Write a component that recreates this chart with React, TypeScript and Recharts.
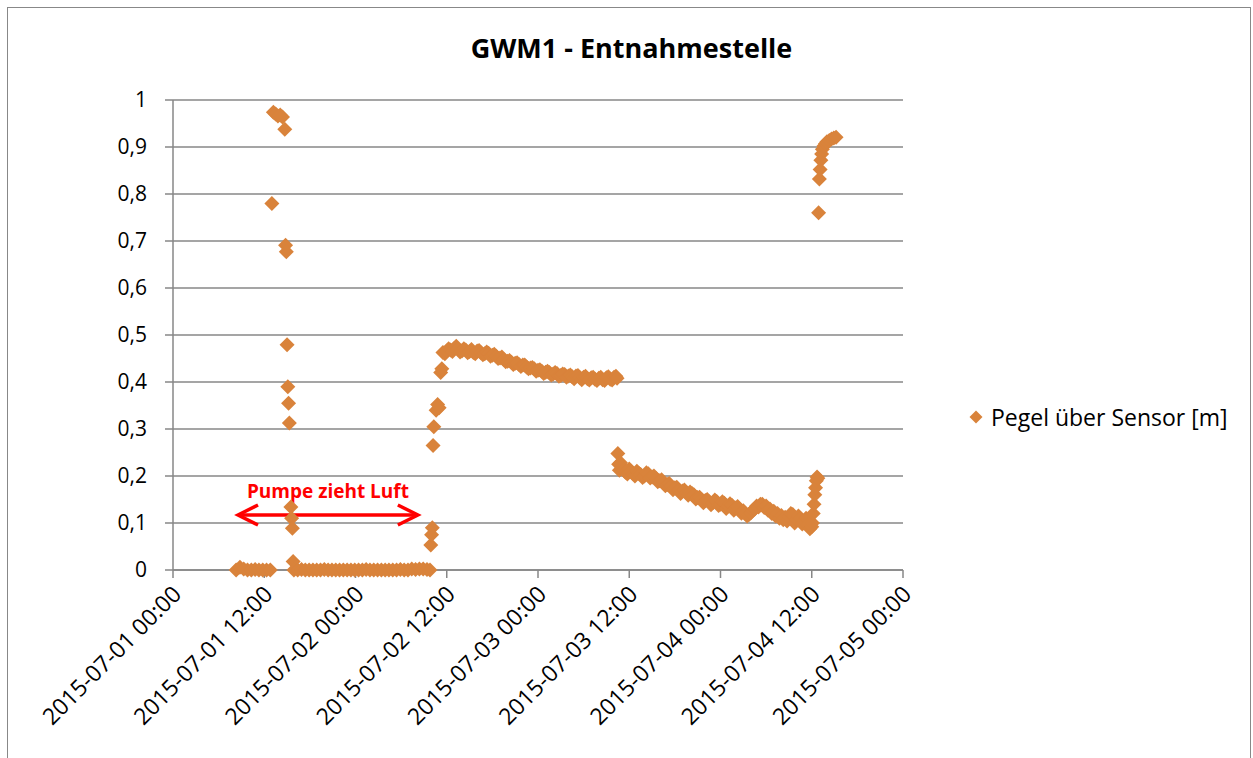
import React from 'react';
import { ScatterChart, Scatter, XAxis, YAxis, CartesianGrid, ReferenceLine, Legend } from 'recharts';

const TITLE = 'GWM1 - Entnahmestelle';
const SERIES_NAME = 'Pegel über Sensor [m]';
const ANNOTATION = 'Pumpe zieht Luft';

// x axis: hours since 2015-07-01 00:00
const xTicks = [0, 12, 24, 36, 48, 60, 72, 84, 96];
const xTickLabels = [
  '2015-07-01 00:00', '2015-07-01 12:00', '2015-07-02 00:00', '2015-07-02 12:00',
  '2015-07-03 00:00', '2015-07-03 12:00', '2015-07-04 00:00', '2015-07-04 12:00',
  '2015-07-05 00:00',
];
const yTicks = [0, 0.1, 0.2, 0.3, 0.4, 0.5, 0.6, 0.7, 0.8, 0.9, 1];
const yTickLabels = ['0', '0,1', '0,2', '0,3', '0,4', '0,5', '0,6', '0,7', '0,8', '0,9', '1'];

// annotation arrow (hours, level)
const arrowStart = { x: 8.55, y: 0.117 };
const arrowEnd = { x: 32.2, y: 0.117 };

// measurements: [hours, level in m]
const firstIdle: [number, number][] = [
  [8.3, 0], [8.8, 0.006], [9.3, 0.002], [9.8, 0], [10.3, 0], [10.8, 0.001],
  [11.3, 0], [11.8, 0], [12.3, 0], [12.8, 0],
];
const spike: [number, number][] = [
  [13.0, 0.78], [13.2, 0.974], [13.5, 0.97], [13.8, 0.966], [14.1, 0.968], [14.4, 0.964],
  [14.7, 0.938], [14.8, 0.691], [14.9, 0.677], [15.0, 0.479], [15.1, 0.39], [15.2, 0.355],
  [15.3, 0.313], [15.5, 0.134], [15.6, 0.11], [15.7, 0.089], [15.8, 0.018],
];
const secondIdle: [number, number][] = [
  [15.9, 0], [16.4, 0], [16.9, 0.001], [17.4, 0], [17.9, 0], [18.4, 0], [18.9, 0],
  [19.4, 0], [19.9, 0.001], [20.4, 0], [20.9, 0], [21.4, 0], [21.9, 0], [22.4, 0],
  [22.9, 0], [23.4, 0], [23.9, 0], [24.4, 0], [24.9, 0], [25.4, 0.001], [25.9, 0],
  [26.4, 0], [26.9, 0], [27.4, 0], [27.9, 0], [28.4, 0], [28.9, 0], [29.4, 0],
  [29.9, 0.001], [30.4, 0], [30.9, 0], [31.4, 0.002], [31.9, 0.001], [32.4, 0.002],
  [32.9, 0.002], [33.4, 0.001], [33.8, 0],
];
const recovery: [number, number][] = [
  [33.9, 0.053], [34.0, 0.075], [34.1, 0.09], [34.2, 0.265], [34.3, 0.305],
  [34.6, 0.34], [34.8, 0.352], [35.0, 0.345], [35.2, 0.42], [35.35, 0.428],
];
const plateau: [number, number][] = [
  [35.5, 0.463], [35.75, 0.46], [36.0, 0.466], [36.25, 0.471], [36.5, 0.468], [36.75, 0.465],
  [37.0, 0.472], [37.25, 0.476], [37.5, 0.47], [37.75, 0.464], [38.0, 0.466], [38.25, 0.471],
  [38.5, 0.468], [38.75, 0.462], [39.0, 0.465], [39.25, 0.469], [39.5, 0.463], [39.75, 0.46],
  [40.0, 0.466], [40.25, 0.467], [40.5, 0.462], [40.75, 0.458], [41.0, 0.46], [41.25, 0.464],
  [41.5, 0.461], [41.75, 0.455], [42.0, 0.457], [42.25, 0.459], [42.5, 0.455], [42.75, 0.45],
  [43.0, 0.451], [43.25, 0.453], [43.5, 0.448], [43.75, 0.443], [44.0, 0.444], [44.25, 0.446],
  [44.5, 0.442], [44.75, 0.437], [45.0, 0.44], [45.25, 0.441], [45.5, 0.437], [45.75, 0.433],
  [46.0, 0.436], [46.25, 0.436], [46.5, 0.432], [46.75, 0.428], [47.0, 0.43], [47.25, 0.431],
  [47.5, 0.428], [47.75, 0.423], [48.0, 0.425], [48.25, 0.426], [48.5, 0.423], [48.75, 0.418],
  [49.0, 0.421], [49.25, 0.423], [49.5, 0.42], [49.75, 0.415], [50.0, 0.417], [50.25, 0.42],
  [50.5, 0.418], [50.75, 0.412], [51.0, 0.414], [51.25, 0.417], [51.5, 0.416], [51.75, 0.41],
  [52.0, 0.413], [52.25, 0.415], [52.5, 0.411], [52.75, 0.407], [53.0, 0.413], [53.25, 0.414],
  [53.5, 0.409], [53.75, 0.405], [54.0, 0.41], [54.25, 0.412], [54.5, 0.407], [54.75, 0.404],
  [55.0, 0.409], [55.25, 0.41], [55.5, 0.406], [55.75, 0.403], [56.0, 0.408], [56.25, 0.41],
  [56.5, 0.405], [56.75, 0.403], [57.0, 0.409], [57.25, 0.411], [57.5, 0.406], [57.75, 0.404],
  [58.0, 0.41], [58.25, 0.412], [58.4, 0.408],
];
const decline: [number, number][] = [
  [58.5, 0.248], [58.6, 0.225], [58.7, 0.212], [58.85, 0.228], [59.0, 0.22], [59.25, 0.213],
  [59.5, 0.208], [59.75, 0.204], [60.0, 0.215], [60.25, 0.21], [60.5, 0.205], [60.75, 0.2],
  [61.0, 0.21], [61.25, 0.206], [61.5, 0.203], [61.75, 0.197], [62.0, 0.2], [62.25, 0.207],
  [62.5, 0.205], [62.75, 0.196], [63.0, 0.198], [63.25, 0.2], [63.5, 0.195], [63.75, 0.188],
  [64.0, 0.19], [64.25, 0.192], [64.5, 0.186], [64.75, 0.179], [65.0, 0.182], [65.25, 0.184],
  [65.5, 0.178], [65.75, 0.171], [66.0, 0.175], [66.25, 0.176], [66.5, 0.17], [66.75, 0.163],
  [67.0, 0.168], [67.25, 0.17], [67.5, 0.165], [67.75, 0.159], [68.0, 0.166], [68.25, 0.163],
  [68.5, 0.16], [68.75, 0.151], [69.0, 0.154], [69.25, 0.155], [69.5, 0.15], [69.75, 0.143],
  [70.0, 0.148], [70.25, 0.15], [70.5, 0.145], [70.75, 0.139], [71.0, 0.143], [71.25, 0.149],
  [71.5, 0.146], [71.75, 0.137], [72.0, 0.14], [72.25, 0.145], [72.5, 0.142], [72.75, 0.131],
  [73.0, 0.136], [73.25, 0.141], [73.5, 0.138], [73.75, 0.127], [74.0, 0.132], [74.25, 0.135],
  [74.5, 0.13], [74.75, 0.121], [75.0, 0.126], [75.25, 0.12], [75.5, 0.115], [75.75, 0.118],
  [76.0, 0.122], [76.25, 0.127], [76.5, 0.13], [76.75, 0.136], [77.0, 0.134], [77.25, 0.14],
  [77.5, 0.14], [77.75, 0.133], [78.0, 0.136], [78.25, 0.127], [78.5, 0.13], [78.75, 0.12],
  [79.0, 0.125], [79.25, 0.115], [79.5, 0.12], [79.75, 0.11], [80.0, 0.116], [80.25, 0.107],
  [80.5, 0.112], [80.75, 0.104], [81.0, 0.114], [81.25, 0.12], [81.5, 0.118], [81.75, 0.1],
  [82.0, 0.108], [82.25, 0.115], [82.5, 0.11], [82.75, 0.098], [83.0, 0.104], [83.25, 0.11],
  [83.5, 0.096], [83.75, 0.088], [84.0, 0.092],
];
const secondRise: [number, number][] = [
  [84.1, 0.1], [84.2, 0.12], [84.3, 0.14], [84.4, 0.16], [84.5, 0.175], [84.6, 0.19],
  [84.7, 0.198], [84.8, 0.195],
];
const refill: [number, number][] = [
  [84.9, 0.76], [85.0, 0.832], [85.1, 0.852], [85.2, 0.872], [85.3, 0.885], [85.4, 0.895],
  [85.6, 0.902], [85.8, 0.907], [86.0, 0.911], [86.3, 0.914], [86.6, 0.917], [86.9, 0.919],
  [87.2, 0.921],
];

const data = [firstIdle, spike, secondIdle, recovery, plateau, decline, secondRise, refill]
  .flat()
  .map(([t, v]) => ({ t, v }));

const FONT = '"Open Sans", sans-serif';
const ORANGE = '#D9833B';
const GRID = '#878787';
const R = 7.5;

const Diamond = (props: any) => {
  const { cx, cy } = props;
  if (cx == null || cy == null) return null;
  return <path d={`M${cx},${cy - R}L${cx + R},${cy}L${cx},${cy + R}L${cx - R},${cy}Z`} fill={ORANGE} />;
};

const XTick = (props: any) => {
  const { x, y, index } = props;
  const ax = x + 4;
  const ay = y + 12;
  return (
    <text
      x={ax}
      y={ay}
      dy="0.35em"
      textAnchor="end"
      transform={`rotate(-45 ${ax} ${ay})`}
      fontFamily={FONT}
      fontSize={23}
      fill="#000"
    >
      {xTickLabels[index]}
    </text>
  );
};

const ArrowShape = (props: any) => {
  const { x1, y1, x2, y2 } = props;
  const red = '#FF0000';
  return (
    <g>
      <line x1={x1} y1={y1} x2={x2} y2={y2} stroke={red} strokeWidth={3.5} />
      <polyline points={`${x1 + 20},${y1 - 10} ${x1},${y1} ${x1 + 20},${y1 + 10}`} fill="none" stroke={red} strokeWidth={3.5} />
      <polyline points={`${x2 - 20},${y2 - 10} ${x2},${y2} ${x2 - 20},${y2 + 10}`} fill="none" stroke={red} strokeWidth={3.5} />
      <text x={(x1 + x2) / 2} y={y1 - 17} textAnchor="middle" fontFamily={FONT} fontWeight="bold" fontSize={19} fill={red}>
        {ANNOTATION}
      </text>
    </g>
  );
};

const LegendContent = () => (
  <div style={{ display: 'flex', alignItems: 'center', fontFamily: FONT, fontSize: 23, color: '#000', whiteSpace: 'nowrap' }}>
    <svg width={16} height={16} style={{ display: 'block' }}>
      <path d="M8,1.5L14.5,8L8,14.5L1.5,8Z" fill={ORANGE} />
    </svg>
    <span style={{ marginLeft: 7 }}>{SERIES_NAME}</span>
  </div>
);

export default function App() {
  return (
    <div style={{ position: 'absolute', left: 0, top: 0, width: 1253, height: 758, overflow: 'hidden', background: '#fff' }}>
      <div style={{ position: 'absolute', left: 7, top: 7, width: 1242, height: 800, border: '1.5px solid #888' }} />
      <div style={{ position: 'absolute', left: 0, top: 30, width: 1263, height: 36, lineHeight: '36px', textAlign: 'center', fontFamily: FONT, fontWeight: 'bold', fontSize: 27, color: '#000' }}>
        {TITLE}
      </div>
      <div style={{ position: 'absolute', left: 0, top: 0 }}>
        <ScatterChart width={1253} height={758} margin={{ top: 100, right: 350, bottom: 0, left: 0 }}>
          <CartesianGrid horizontal vertical={false} stroke={GRID} strokeWidth={1.5} />
          <XAxis
            type="number"
            dataKey="t"
            domain={[0, 96]}
            ticks={xTicks}
            interval={0}
            height={188}
            tickSize={8}
            tickMargin={0}
            stroke={GRID}
            strokeWidth={1.5}
            tick={<XTick />}
            allowDataOverflow
          />
          <YAxis
            type="number"
            dataKey="v"
            domain={[0, 1]}
            ticks={yTicks}
            interval={0}
            width={173}
            tickSize={8}
            tickMargin={18}
            stroke={GRID}
            strokeWidth={1.5}
            tick={{ fontFamily: FONT, fontSize: 21, fill: '#000' }}
            tickFormatter={(v: number, i: number) => yTickLabels[i]}
          />
          <ReferenceLine segment={[arrowStart, arrowEnd]} shape={<ArrowShape />} ifOverflow="visible" />
          <Scatter name={SERIES_NAME} data={data} shape={<Diamond />} isAnimationActive={false} />
          <Legend
            layout="horizontal"
            verticalAlign="middle"
            align="center"
            content={<LegendContent />}
            wrapperStyle={{ position: 'absolute', left: 968, top: 401, width: 280 }}
          />
        </ScatterChart>
      </div>
    </div>
  );
}
